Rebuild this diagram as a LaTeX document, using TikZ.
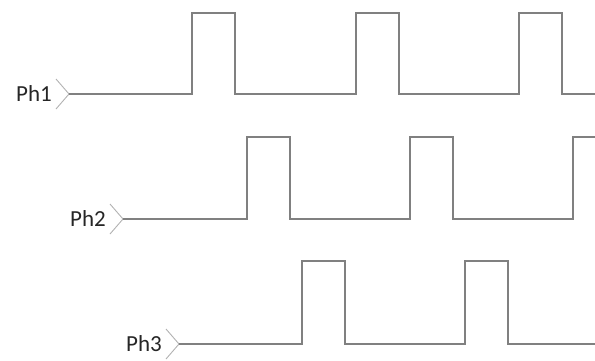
\documentclass[tikz,border=0pt]{standalone}
\usepackage{fontspec}
\setmainfont{Carlito}
\usetikzlibrary{positioning}

\begin{document}
\begin{tikzpicture}[
    x=1pt, y=-1pt,
    every node/.style={font=\fontsize{23}{26}\selectfont},
    lbl/.style={anchor=east, inner sep=0pt, text=black!85},
    chev/.style={draw=black!30, line width=0.9pt},
    wave/.style={draw=black!50, line width=1.3pt, line join=miter}
]
\useasboundingbox (0,0) rectangle (595,360);

% inputs
\coordinate (in1) at (69,94);
\coordinate (in2) at (123,219);
\coordinate (in3) at (179,344);

\foreach \n in {1,2,3} {
    \draw[chev] (in\n) ++(-13,-15) -- (in\n) -- ++(-13,15);
    \node[lbl, left=17pt of in\n] (ph\n) {Ph\n};
}

% Ph1
\draw[wave] (in1)
    \foreach \x in {192,356,519} { -- (\x,94) -- (\x,13) -- (\x+43,13) -- (\x+43,94) }
    -- (595,94);

% Ph2
\draw[wave] (in2)
    \foreach \x in {247,410} { -- (\x,219) -- (\x,137) -- (\x+43,137) -- (\x+43,219) }
    -- (573,219) -- (573,137) -- (595,137);

% Ph3
\draw[wave] (in3)
    \foreach \x in {302,465} { -- (\x,344) -- (\x,261) -- (\x+43,261) -- (\x+43,344) }
    -- (595,344);
\end{tikzpicture}
\end{document}
